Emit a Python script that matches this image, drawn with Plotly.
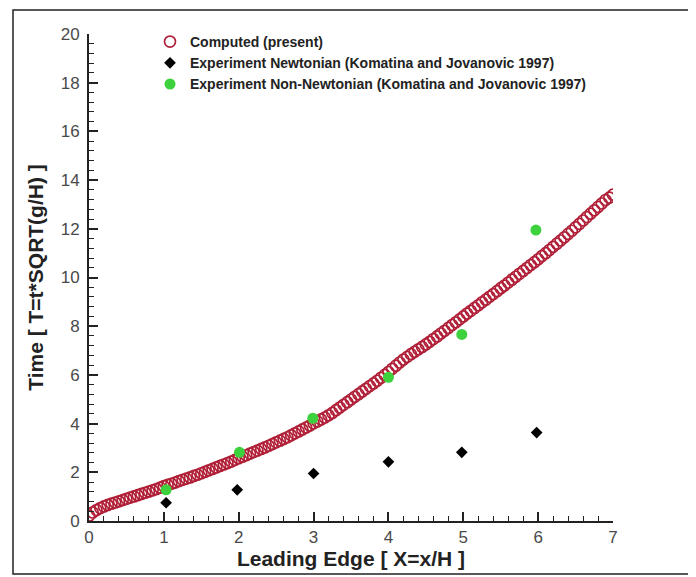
import plotly.graph_objects as go

# Computed (present)
comp_x = [round(i * 0.05, 2) for i in range(141)]
comp_y = [0.22, 0.35, 0.45, 0.53, 0.60, 0.66, 0.71, 0.76, 0.81, 0.86,
          0.91, 0.96, 1.01, 1.06, 1.11, 1.16, 1.21, 1.26, 1.31, 1.37,
          1.43, 1.48, 1.53, 1.58, 1.64, 1.69, 1.74, 1.79, 1.85, 1.90,
          1.96, 2.02, 2.08, 2.14, 2.20, 2.26, 2.32, 2.38, 2.44, 2.51,
          2.58, 2.64, 2.70, 2.77, 2.83, 2.89, 2.96, 3.02, 3.09, 3.16,
          3.23, 3.30, 3.37, 3.44, 3.52, 3.60, 3.68, 3.76, 3.84, 3.92,
          4.01, 4.09, 4.17, 4.25, 4.34, 4.44, 4.55, 4.66, 4.77, 4.88,
          4.99, 5.10, 5.21, 5.32, 5.43, 5.54, 5.65, 5.76, 5.88, 6.00,
          6.12, 6.25, 6.38, 6.51, 6.63, 6.74, 6.85, 6.95, 7.05, 7.15,
          7.25, 7.36, 7.47, 7.58, 7.70, 7.81, 7.93, 8.05, 8.16, 8.28,
          8.40, 8.52, 8.63, 8.75, 8.86, 8.98, 9.09, 9.21, 9.32, 9.44,
          9.56, 9.67, 9.79, 9.91, 10.03, 10.15, 10.27, 10.39, 10.51, 10.63,
          10.75, 10.88, 11.00, 11.13, 11.26, 11.39, 11.52, 11.65, 11.79, 11.92,
          12.06, 12.20, 12.34, 12.48, 12.62, 12.76, 12.90, 13.04, 13.18, 13.28,
          13.40]

# Experiment Newtonian
newt_x = [1.03, 1.98, 3.0, 4.0, 4.98, 5.98]
newt_y = [0.75, 1.28, 1.95, 2.43, 2.82, 3.63]

# Experiment Non-Newtonian
nonn_x = [1.03, 2.01, 2.99, 4.0, 4.98, 5.97]
nonn_y = [1.28, 2.82, 4.22, 5.9, 7.66, 11.95]

fig = go.Figure()
fig.add_trace(go.Scatter(
    x=comp_x, y=comp_y, mode="markers", name="Computed (present)",
    marker=dict(symbol="circle-open", size=11, color="#b01f37",
                line=dict(width=1.7, color="#b01f37")),
))
fig.add_trace(go.Scatter(
    x=newt_x, y=newt_y, mode="markers",
    name="Experiment Newtonian (Komatina and Jovanovic 1997)",
    marker=dict(symbol="diamond", size=9, color="#000000"),
))
fig.add_trace(go.Scatter(
    x=nonn_x, y=nonn_y, mode="markers",
    name="Experiment Non-Newtonian (Komatina and Jovanovic 1997)",
    marker=dict(symbol="circle", size=11, color="#3dd13d"),
))

FONT = "Arial, Liberation Sans, sans-serif"
axis_font = dict(family=FONT, size=17, color="#4a4a4a")
title_font = dict(family=FONT, size=21, color="#222222")

# page body has an 8px offset; figure sized so the plot area lands where the reference has it
W, H = 688, 569
L, R, T, B = 81, 83, 26, 56
pw, ph = W - L - R, H - T - B

fig.update_layout(
    width=W, height=H,
    margin=dict(l=L, r=R, t=T, b=B, autoexpand=False),
    paper_bgcolor="white", plot_bgcolor="white",
    showlegend=True,
    legend=dict(x=(150 - 89) / pw, y=1 + (34 - 26) / ph, xanchor="left", yanchor="top",
                bgcolor="rgba(0,0,0,0)", tracegroupgap=0,
                font=dict(family=FONT, size=14, color="#222222", weight="bold"),
                itemwidth=30),
    xaxis=dict(range=[0, 7], dtick=1, showgrid=False, zeroline=False,
               showline=True, linecolor="#222222", linewidth=2,
               ticks="inside", ticklen=9, tickwidth=2, tickcolor="#222222",
               minor=dict(dtick=0.2, ticks="inside", ticklen=5, tickwidth=1,
                          tickcolor="#222222", showgrid=False),
               tickfont=axis_font, ticklabelstandoff=0,
               title=dict(text="<b>Leading Edge [ X=x/H ]</b>", font=title_font, standoff=0)),
    yaxis=dict(range=[0, 20], dtick=2, showgrid=False, zeroline=False,
               showline=True, linecolor="#222222", linewidth=2,
               ticks="inside", ticklen=9, tickwidth=2, tickcolor="#222222",
               minor=dict(dtick=0.4, ticks="inside", ticklen=5, tickwidth=1,
                          tickcolor="#222222", showgrid=False),
               tickfont=axis_font, ticklabelstandoff=4,
               title=dict(text="<b>Time [ T=t*SQRT(g/H) ]</b>", font=title_font, standoff=11)),
    shapes=[dict(type="rect", xref="paper", yref="paper",
                 x0=(13 - 89) / pw, x1=(692 - 89) / pw,
                 y0=-(574 - 521) / ph, y1=1 + (34 - 10) / ph,
                 line=dict(color="#222222", width=1.5), layer="below")],
)

fig.write_html("out.html")
